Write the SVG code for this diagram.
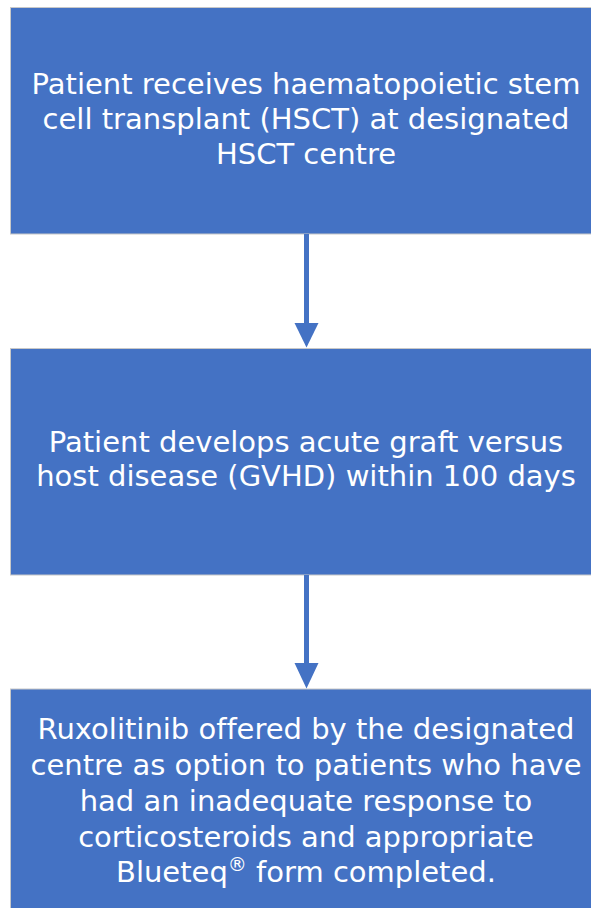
<svg xmlns="http://www.w3.org/2000/svg" width="591" height="908" viewBox="0 0 591 908">
<defs>
<style>
.box{fill:#4472C4;stroke:#C8C8C8;stroke-width:1}
.t{font-family:"DejaVu Sans",Verdana,sans-serif;font-size:29px;fill:#FFFFFF;text-anchor:middle;font-variant-ligatures:none}
.sup{font-size:19px}
.conn{stroke:#4472C4;stroke-width:5;fill:none}
.head{fill:#4472C4}
</style>
</defs>
<rect width="591" height="908" fill="#FFFFFF"/>
<g id="node1">
<rect class="box" x="10.5" y="7.5" width="600" height="226.5"/>
<text class="t" x="306" y="94.3">Patient receives haematopoietic stem</text>
<text class="t" x="306" y="129.3">cell transplant (HSCT) at designated</text>
<text class="t" x="306" y="164.3">HSCT centre</text>
</g>
<g id="node2">
<rect class="box" x="10.5" y="348.5" width="600" height="226.5"/>
<text class="t" x="306" y="451.7">Patient develops acute graft versus</text>
<text class="t" x="306" y="485.7">host disease (GVHD) within 100 days</text>
</g>
<g id="node3">
<rect class="box" x="10.5" y="689" width="600" height="230"/>
<text class="t" x="306" y="739.3">Ruxolitinib offered by the designated</text>
<text class="t" x="306" y="775">centre as option to patients who have</text>
<text class="t" x="306" y="811">had an inadequate response to</text>
<text class="t" x="306" y="846.7">corticosteroids and appropriate</text>
<text class="t" x="306" y="881.7">Blueteq<tspan class="sup" dy="-11">®</tspan><tspan dy="11"> form completed.</tspan></text>
</g>
<g id="connectors">
<line class="conn" x1="306.5" y1="234" x2="306.5" y2="324"/>
<polygon class="head" points="294.5,323 318.5,323 306.5,347.5"/>
<line class="conn" x1="306.5" y1="575" x2="306.5" y2="664"/>
<polygon class="head" points="294.5,663 318.5,663 306.5,688.5"/>
</g>
</svg>
